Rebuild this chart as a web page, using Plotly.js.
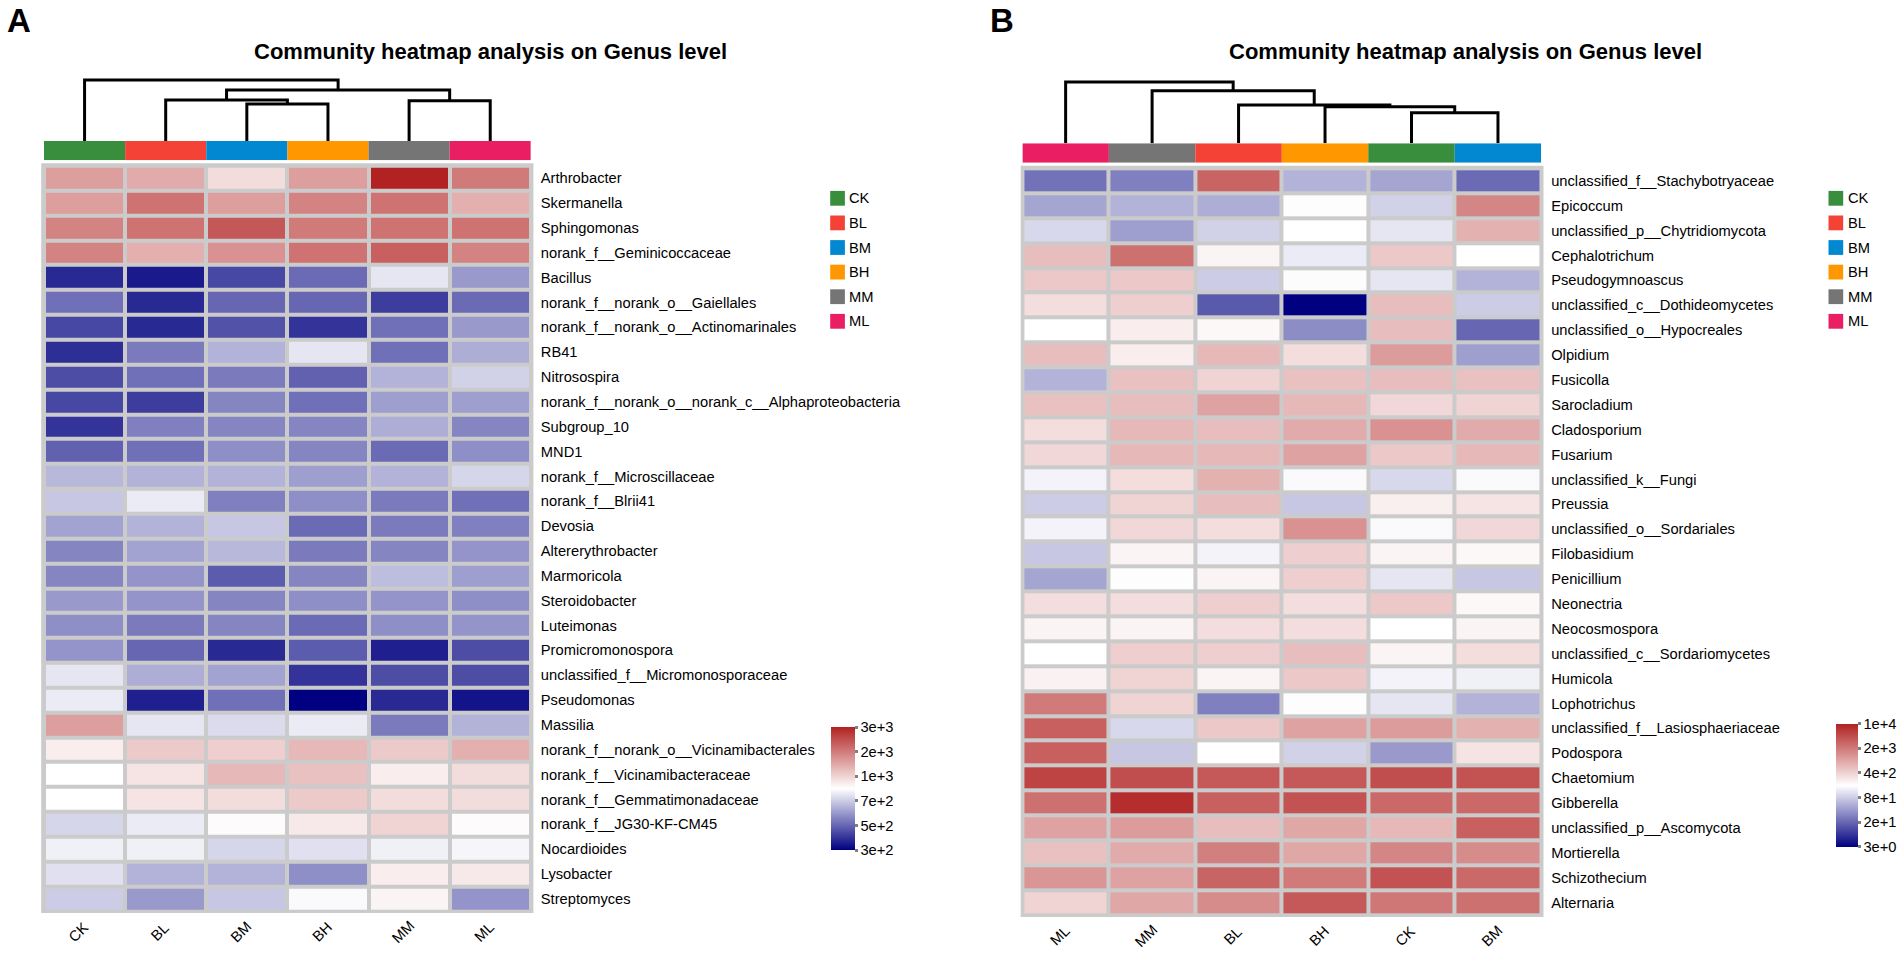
<!DOCTYPE html>
<html><head><meta charset="utf-8">
<script src="https://cdn.plot.ly/plotly-3.0.1.min.js"></script>
<style>html,body{margin:0;padding:0;background:#fff;}#chart{width:1902px;height:955px;}</style>
</head><body><div id="chart"></div>
<script>
// ---------------- DATA ----------------
const groupNames = ['CK','BL','BM','BH','MM','ML'];
const groupColors = ['#388E3C','#F44336','#0288D1','#FF9800','#757575','#E91E63'];
const tickLevels = [0,1,2,3,4,5];

// Panel A (bacteria)
const colsA = ['CK','BL','BM','BH','MM','ML'];
const rowsA = ['Arthrobacter','Skermanella','Sphingomonas','norank_f__Geminicoccaceae','Bacillus',
 'norank_f__norank_o__Gaiellales','norank_f__norank_o__Actinomarinales','RB41','Nitrosospira',
 'norank_f__norank_o__norank_c__Alphaproteobacteria','Subgroup_10','MND1','norank_f__Microscillaceae',
 'norank_f__Blrii41','Devosia','Altererythrobacter','Marmoricola','Steroidobacter','Luteimonas',
 'Promicromonospora','unclassified_f__Micromonosporaceae','Pseudomonas','Massilia',
 'norank_f__norank_o__Vicinamibacterales','norank_f__Vicinamibacteraceae','norank_f__Gemmatimonadaceae',
 'norank_f__JG30-KF-CM45','Nocardioides','Lysobacter','Streptomyces'];
const valuesA = [
 [3.6,3.45,2.9,3.6,5.0,4.0],
 [3.6,4.1,3.6,3.9,4.1,3.4],
 [3.9,4.1,4.4,4.0,4.1,4.1],
 [3.9,3.4,3.75,4.1,4.3,3.9],
 [0.4,0.25,0.7,1.05,2.25,1.5],
 [1.1,0.4,1.0,1.0,0.6,1.05],
 [0.7,0.4,0.8,0.5,1.1,1.5],
 [0.45,1.2,1.75,2.25,1.1,1.7],
 [0.75,1.1,1.2,0.95,1.75,2.05],
 [0.7,0.6,1.3,1.1,1.55,1.55],
 [0.5,1.25,1.3,1.3,1.7,1.3],
 [0.95,1.1,1.4,1.3,1.05,1.4],
 [1.8,1.75,1.75,1.55,1.75,2.1],
 [1.95,2.3,1.25,1.4,1.2,1.1],
 [1.6,1.75,1.95,1.05,1.2,1.25],
 [1.3,1.6,1.8,1.2,1.3,1.45],
 [1.3,1.45,0.9,1.3,1.85,1.55],
 [1.5,1.45,1.3,1.4,1.45,1.4],
 [1.4,1.2,1.3,1.05,1.4,1.45],
 [1.45,1.0,0.4,0.9,0.3,0.75],
 [2.25,1.7,1.6,0.5,0.75,0.75],
 [2.3,0.3,1.1,0.0,0.4,0.2],
 [3.6,2.25,2.15,2.3,1.2,1.75],
 [2.7,3.1,3.05,3.3,3.1,3.4],
 [2.5,2.8,3.3,3.2,2.7,2.9],
 [2.5,2.8,2.9,3.1,2.9,2.9],
 [2.1,2.3,2.55,2.75,3.0,2.55],
 [2.35,2.35,2.1,2.2,2.35,2.4],
 [2.2,1.75,1.75,1.4,2.7,2.75],
 [2.0,1.5,1.95,2.45,2.62,1.45]
];
const mergeLeftA = ['BM','BL','MM','m2','CK'];
const mergeRightA = ['BH','m1','ML','m3','m4'];
const mergeHeightA = [37, 41, 40.3, 51, 61];
const tickTextA = ['3e+2','5e+2','7e+2','1e+3','2e+3','3e+3'];

// Panel B (fungi)
const colsB = ['ML','MM','BL','BH','CK','BM'];
const rowsB = ['unclassified_f__Stachybotryaceae','Epicoccum','unclassified_p__Chytridiomycota','Cephalotrichum',
 'Pseudogymnoascus','unclassified_c__Dothideomycetes','unclassified_o__Hypocreales','Olpidium','Fusicolla',
 'Sarocladium','Cladosporium','Fusarium','unclassified_k__Fungi','Preussia','unclassified_o__Sordariales',
 'Filobasidium','Penicillium','Neonectria','Neocosmospora','unclassified_c__Sordariomycetes','Humicola',
 'Lophotrichus','unclassified_f__Lasiosphaeriaceae','Podospora','Chaetomium','Gibberella',
 'unclassified_p__Ascomycota','Mortierella','Schizothecium','Alternaria'];
const valuesB = [
 [1.12,1.25,4.25,1.75,1.62,1.05],
 [1.62,1.75,1.7,2.52,2.05,3.88],
 [2.12,1.55,2.05,2.5,2.25,3.38],
 [3.25,4.12,2.62,2.3,3.12,2.5],
 [3.12,3.12,2.0,2.47,2.25,1.75],
 [2.88,3.05,0.88,0.0,3.25,2.0],
 [2.5,2.7,2.58,1.38,3.25,1.0],
 [3.25,2.7,3.3,2.88,3.62,1.55],
 [1.75,3.2,3.0,3.2,3.25,3.2],
 [3.2,3.25,3.55,3.3,2.95,3.0],
 [2.88,3.3,3.25,3.45,3.75,3.45],
 [2.95,3.3,3.3,3.55,3.12,3.3],
 [2.38,2.88,3.38,2.45,2.12,2.45],
 [2.0,3.0,3.25,1.95,2.68,2.8],
 [2.38,2.95,2.88,3.75,2.45,2.95],
 [1.95,2.62,2.38,3.05,2.62,2.58],
 [1.62,2.48,2.62,3.05,2.25,1.95],
 [2.88,2.88,3.05,2.88,3.12,2.58],
 [2.62,2.62,2.88,2.88,2.5,2.62],
 [2.5,3.05,3.05,3.25,2.62,2.88],
 [2.65,3.0,2.62,3.12,2.38,2.35],
 [4.0,3.0,1.25,2.52,2.25,1.75],
 [4.3,2.12,3.12,3.55,3.62,3.38],
 [4.3,1.95,2.5,2.05,1.5,2.8],
 [4.62,4.5,4.38,4.38,4.5,4.45],
 [4.12,4.88,4.3,4.45,4.2,4.2],
 [3.55,3.62,3.25,3.5,3.3,4.3],
 [3.2,3.45,3.95,3.5,3.88,3.8],
 [3.7,3.55,4.25,4.0,4.45,4.2],
 [3.0,3.5,3.8,4.38,4.05,4.12]
];
const mergeLeftB = ['CK','BH','BL','MM','ML'];
const mergeRightB = ['BM','m1','m2','m3','m4'];
const mergeHeightB = [30.6, 36.6, 38.3, 52.6, 61.3];
const tickTextB = ['3e+0','2e+1','8e+1','4e+2','2e+3','1e+4'];

// ---------------- LAYOUT HELPERS ----------------
const W = 1902, H = 955;
const FONT = '"Liberation Sans", Arial, Helvetica, sans-serif';
const px = x => x / W;
const py = y => 1 - y / H;
const colorscale = [[0,'#000080'],[0.5,'#FFFFFF'],[1,'#B22222']];

const geo = {
 A:{x0:44,x1:530.8,hy0:165.7,hy1:911.3,by0:141,by1:160.3,dTop:76,box:[41.2,163.3,533.4,913],
    cb:{x:830.8,y:727,len:123,th:24},legX:830.2,legLX:846.5,labY:932,titleX:490,titleY:51,tagX:5},
 B:{x0:1022.4,x1:1541.2,hy0:168.3,hy1:915,by0:143.3,by1:162.7,dTop:78.3,box:[1020.7,165.7,1543.5,917],
    cb:{x:1836.4,y:723.7,len:122.6,th:22},legX:1828.5,legLX:1845.5,labY:936,titleX:1465,titleY:52,tagX:988}
};

const traces = [];
const layout = {
 width: W, height: H, margin:{l:0,r:0,t:0,b:0,pad:0},
 paper_bgcolor:'#ffffff', plot_bgcolor:'rgba(0,0,0,0)',
 showlegend:false, font:{family:FONT, size:14.7, color:'#000'},
 shapes:[], annotations:[]
};

function hiddenAxis(domain, extra){
 return Object.assign({domain:domain, showgrid:false, zeroline:false, showline:false,
   showticklabels:false, ticks:'', fixedrange:true}, extra||{});
}

function buildDendro(cols, L, R, Hs){
 const pos = {};
 cols.forEach((c,i)=>{ pos[c] = {x:i, y:0}; });
 const xs = [], ys = [];
 for (let k=0;k<L.length;k++){
   const a = pos[L[k]], b = pos[R[k]], h = Hs[k];
   xs.push(a.x, a.x, b.x, b.x, null);
   ys.push(a.y, h, h, b.y, null);
   pos['m'+(k+1)] = {x:(a.x+b.x)/2, y:h};
 }
 return {xs, ys};
}

function panel(key, idx, cols, rows, vals, mL, mR, mH, tickText, tag){
 const g = geo[key];
 const n = idx*3;
 const hx = 'x'+(n+1), hy = 'y'+(n+1);
 const bx = 'x'+(n+2), by = 'y'+(n+2);
 const dx = 'x'+(n+3), dy = 'y'+(n+3);
 const axName = s => s.replace('x','xaxis').replace('y','yaxis');
 const xdom = [px(g.x0), px(g.x1)];
 const colRange = [-0.5, cols.length-0.5];

 // heatmap
 traces.push({type:'heatmap', x:cols, y:rows, z:vals, xaxis:hx, yaxis:hy,
   zmin:0, zmax:5, colorscale:colorscale, xgap:4, ygap:4, hoverinfo:'skip',
   colorbar:{x:px(g.cb.x), xanchor:'left', y:py(g.cb.y), yanchor:'top',
     len:g.cb.len, lenmode:'pixels', thickness:g.cb.th, thicknessmode:'pixels',
     xpad:0, ypad:0, outlinewidth:0, tickvals:tickLevels, ticktext:tickText,
     ticks:'outside', ticklen:3, tickwidth:3, tickcolor:'#7f7f7f',
     tickfont:{family:FONT, size:14.7, color:'#000'}}});
 layout[axName(hx)] = hiddenAxis(xdom, {type:'category', range:colRange, anchor:hy});
 layout[axName(hy)] = {domain:[py(g.hy1), py(g.hy0)], type:'category', range:[rows.length-0.5,-0.5],
   side:'right', anchor:hx, showgrid:false, zeroline:false, showline:false, ticks:'',
   ticklabelstandoff:9, tickfont:{family:FONT, size:14.7, color:'#000'}, fixedrange:true};

 // group colour bar
 traces.push({type:'bar', x:cols, y:cols.map(()=>1), width:1, xaxis:bx, yaxis:by, hoverinfo:'skip',
   marker:{color:cols.map(c=>groupColors[groupNames.indexOf(c)]), line:{width:0}}});
 layout[axName(bx)] = hiddenAxis(xdom, {type:'category', range:colRange, anchor:by});
 layout[axName(by)] = hiddenAxis([py(g.by1), py(g.by0)], {range:[0,1], anchor:bx});

 // dendrogram
 const d = buildDendro(cols, mL, mR, mH);
 traces.push({type:'scatter', mode:'lines', x:d.xs, y:d.ys, xaxis:dx, yaxis:dy, hoverinfo:'skip',
   line:{color:'#000', width:3}, connectgaps:false});
 layout[axName(dx)] = hiddenAxis(xdom, {range:colRange, anchor:dy});
 layout[axName(dy)] = hiddenAxis([py(g.by0), py(g.dTop)], {range:[0, g.by0-g.dTop], anchor:dx});

 // grey background box behind cells
 layout.shapes.push({type:'rect', xref:'paper', yref:'paper', layer:'below',
   x0:px(g.box[0]), x1:px(g.box[2]), y0:py(g.box[3]), y1:py(g.box[1]),
   fillcolor:'#cbcbcb', line:{width:0}});

 // column labels
 cols.forEach(c=>{
   layout.annotations.push({x:c, xref:hx, y:py(g.labY), yref:'paper', text:c, showarrow:false,
     textangle:-45, xanchor:'center', yanchor:'middle', xshift:-6,
     font:{family:FONT, size:14.7, color:'#000'}});
 });

 // legend
 groupNames.forEach((gname,i)=>{
   const cy = 198.3 + 24.6*i;
   layout.shapes.push({type:'rect', xref:'paper', yref:'paper',
     x0:px(g.legX), x1:px(g.legX+14.7), y0:py(cy+7.4), y1:py(cy-7.4),
     fillcolor:groupColors[i], line:{width:0}});
   layout.annotations.push({x:px(g.legLX), xref:'paper', y:py(cy), yref:'paper', text:gname,
     showarrow:false, xanchor:'left', yanchor:'middle', font:{family:FONT, size:14.7, color:'#000'}});
 });

 // title and tag
 layout.annotations.push({x:px(g.titleX), xref:'paper', y:py(g.titleY), yref:'paper',
   text:'<b>Community heatmap analysis on Genus level</b>', showarrow:false,
   xanchor:'center', yanchor:'middle', font:{family:FONT, size:22, color:'#000'}});
 layout.annotations.push({x:px(g.tagX), xref:'paper', y:py(21), yref:'paper',
   text:'<b>'+tag+'</b>', showarrow:false, xanchor:'left', yanchor:'middle',
   font:{family:FONT, size:33, color:'#000'}});
}

panel('A', 0, colsA, rowsA, valuesA, mergeLeftA, mergeRightA, mergeHeightA, tickTextA, 'A');
panel('B', 1, colsB, rowsB, valuesB, mergeLeftB, mergeRightB, mergeHeightB, tickTextB, 'B');

Plotly.newPlot('chart', traces, layout, {staticPlot:true, displayModeBar:false});
</script></body></html>
